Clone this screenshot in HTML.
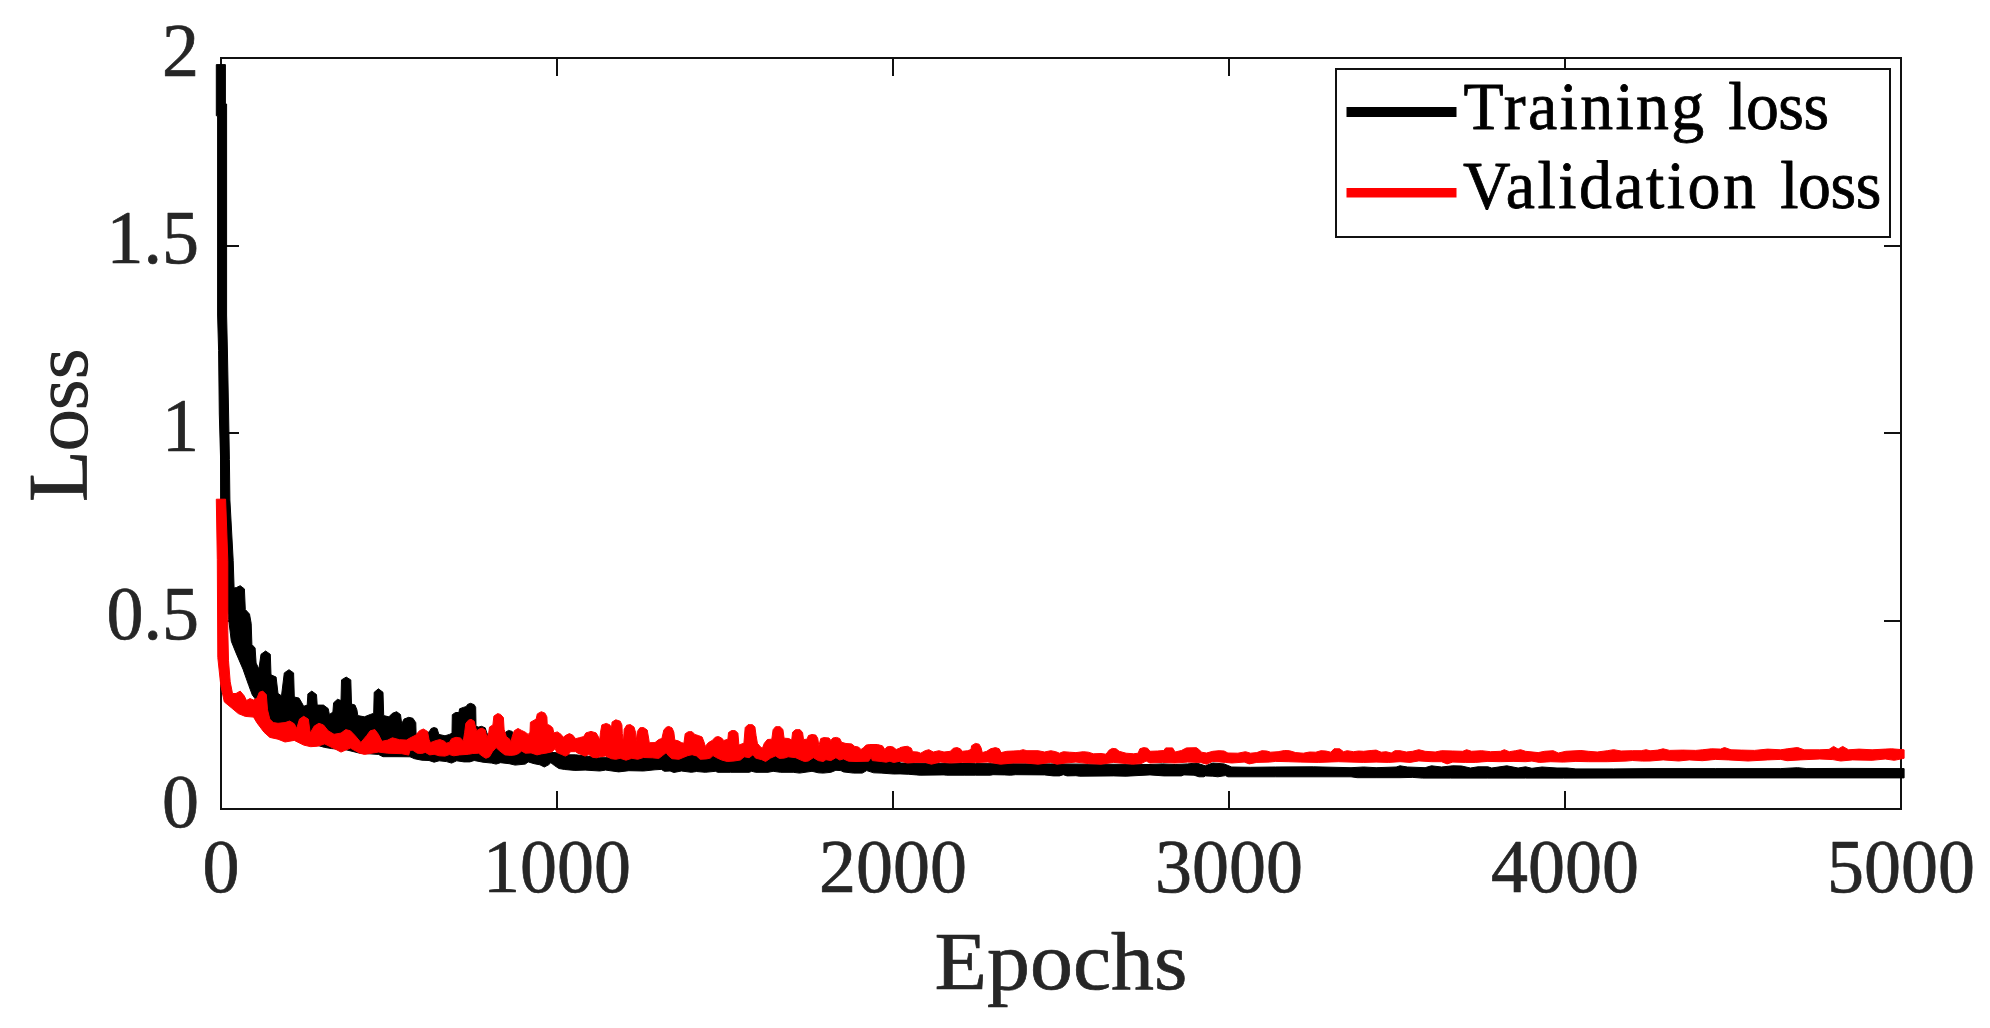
<!DOCTYPE html>
<html><head><meta charset="utf-8"><title>Loss</title>
<style>
html,body{margin:0;padding:0;background:#fff;}
svg{display:block}
text{font-family:"Liberation Serif",serif;stroke-linejoin:round;}
.tk{stroke:#262626;stroke-width:0.7}
.lg{stroke:#000;stroke-width:0.8}
</style></head><body>
<svg width="1990" height="1028" viewBox="0 0 1990 1028">
<rect width="1990" height="1028" fill="#fff"/>
<g id="axes" fill="none" stroke="#111111" stroke-width="2" shape-rendering="crispEdges">
<rect x="221" y="58" width="1680" height="751"/>
<path d="M557 809V791M557 58V76"/><path d="M893 809V791M893 58V76"/><path d="M1229 809V791M1229 58V76"/><path d="M1565 809V791M1565 58V76"/><path d="M221 621H239M1901 621H1884"/><path d="M221 433H239M1901 433H1884"/><path d="M221 246H239M1901 246H1884"/>
</g>
<g id="curves" stroke-linejoin="round">
<path d="M225.4 64.6 L225.4 104.0 L226.6 104.0 L226.6 315.0 L227.4 350.0 L228.6 414.0 L229.4 459.5 L229.9 500.0 L233.2 560.5 L234.1 588.0 L236.5 587.5 L240.2 585.7 L244.4 588.9 L245.3 609.5 L249.5 614.1 L251.2 623.5 L251.9 644.5 L255.1 648.0 L256.1 663.1 L258.9 669.0 L261.0 654.3 L265.6 651.0 L270.3 654.3 L271.0 674.8 L276.1 677.1 L278.0 693.5 L281.5 695.8 L284.3 672.9 L289.0 669.7 L293.6 672.9 L294.3 697.0 L299.0 698.1 L301.8 702.8 L303.7 706.3 L307.2 705.1 L307.9 693.9 L311.8 691.1 L316.5 694.6 L317.2 705.1 L323.5 705.1 L328.2 708.6 L329.4 714.5 L332.9 712.1 L333.6 702.8 L337.5 699.3 L341.0 700.5 L341.5 679.9 L346.2 677.1 L350.8 679.9 L351.5 704.0 L355.0 705.1 L356.9 709.8 L357.8 715.6 L364.4 716.8 L370.2 714.5 L373.7 713.3 L374.2 692.3 L378.4 688.8 L383.0 692.3 L383.7 715.6 L388.9 716.8 L392.4 713.3 L396.6 711.7 L400.5 714.5 L401.7 723.8 L404.0 719.1 L408.7 717.3 L410.0 717.6 L412.9 718.3 L415.8 722.7 L416.1 734.4 L418.8 733.6 L424.6 732.2 L429.0 732.2 L431.2 728.5 L434.1 727.5 L437.0 728.5 L438.9 734.4 L445.0 735.8 L449.4 734.4 L452.0 733.3 L452.3 714.7 L455.5 712.5 L458.9 712.5 L459.6 708.8 L463.3 707.4 L466.2 706.6 L467.6 704.4 L470.6 703.3 L474.2 704.7 L475.7 707.4 L476.0 726.3 L478.6 727.1 L481.5 726.3 L485.2 727.8 L486.6 732.2 L491.7 743.9 L503.4 738.0 L505.6 732.2 L508.5 730.4 L512.2 731.4 L512.9 735.1 L515.1 746.8 L520.9 751.2 L555.9 752.6 L569.8 754.8 L575.6 754.8 L599.7 757.7 L655.0 757.5 L658.8 757.8 L662.5 754.9 L666.1 752.1 L668.6 755.3 L672.0 758.1 L678.9 758.7 L683.9 756.6 L687.9 754.9 L692.1 754.1 L696.5 755.3 L700.2 758.7 L706.5 758.3 L710.3 757.5 L713.0 754.9 L716.6 757.1 L721.6 759.3 L727.2 760.9 L734.1 760.3 L740.4 759.3 L744.2 756.2 L749.2 757.1 L753.0 754.1 L755.5 757.5 L761.8 759.1 L765.6 760.9 L770.6 757.5 L775.4 755.3 L779.4 757.8 L784.4 757.5 L788.2 756.2 L795.7 757.1 L800.7 759.3 L804.5 760.9 L808.3 760.3 L813.3 757.1 L818.3 760.0 L823.3 760.9 L825.9 759.1 L830.9 760.0 L835.9 757.1 L839.7 759.3 L843.4 758.3 L848.5 760.6 L856.0 760.9 L868.6 760.6 L871.3 756.6 L872.3 760.0 L881.1 760.9 L886.2 761.6 L889.9 760.6 L893.7 761.9 L900.0 760.6 L900.0 763.0 L975.4 763.6 L1050.8 763.9 L1150.0 764.5 L1162.6 763.9 L1175.1 764.5 L1187.7 763.9 L1196.5 763.0 L1205.3 765.8 L1212.8 763.0 L1224.1 763.9 L1231.7 767.0 L1250.5 767.3 L1275.6 767.0 L1313.3 766.8 L1351.0 767.7 L1363.6 767.0 L1376.1 767.7 L1396.2 767.0 L1400.0 765.8 L1407.5 767.0 L1425.1 767.7 L1431.4 765.8 L1441.5 767.0 L1452.8 765.8 L1461.6 766.0 L1470.4 768.0 L1477.9 766.8 L1487.9 766.8 L1491.7 768.0 L1506.8 765.8 L1518.1 768.0 L1525.6 766.8 L1531.9 768.3 L1542.0 767.0 L1557.0 768.0 L1567.1 768.0 L1575.9 768.9 L1613.6 768.9 L1650.0 768.6 L1715.3 768.6 L1780.7 768.6 L1797.6 767.7 L1806.8 768.6 L1846.0 768.4 L1904.1 768.6 L1904.1 777.9 L1650.0 777.9 L1563.3 778.1 L1525.6 778.1 L1487.9 778.1 L1450.3 778.1 L1422.6 778.1 L1412.6 777.4 L1400.0 777.7 L1376.1 777.7 L1357.3 777.7 L1351.0 776.8 L1275.6 776.8 L1227.9 776.8 L1225.4 775.6 L1217.8 776.8 L1212.8 776.2 L1205.3 775.9 L1204.0 776.8 L1199.0 776.8 L1194.0 775.2 L1183.9 774.9 L1181.4 775.9 L1163.8 775.9 L1150.0 774.9 L1126.1 776.2 L1113.6 775.9 L1079.6 776.2 L1075.9 775.7 L1067.1 775.9 L1063.3 774.7 L1059.5 775.9 L1053.3 775.9 L1044.5 774.9 L1015.6 774.7 L1010.6 775.2 L1004.3 774.9 L993.0 774.7 L990.5 775.2 L975.4 775.2 L964.1 775.2 L946.5 775.2 L944.0 774.9 L920.1 775.2 L916.3 774.9 L908.8 774.3 L900.0 773.9 L893.7 774.0 L881.1 773.1 L873.6 772.8 L866.7 770.6 L862.3 773.1 L853.5 773.1 L843.4 771.9 L840.9 770.6 L835.9 770.3 L830.9 772.3 L823.3 773.1 L818.3 772.8 L812.0 771.3 L799.5 773.1 L793.2 772.3 L780.6 772.3 L773.1 771.3 L768.1 772.3 L755.5 772.3 L751.7 771.3 L749.2 772.3 L730.4 772.3 L717.8 772.3 L715.3 771.3 L705.3 772.3 L696.5 771.5 L691.4 772.3 L681.4 771.0 L673.8 772.5 L670.1 771.0 L664.4 771.3 L661.3 769.4 L655.0 769.8 L643.5 771.0 L628.9 770.7 L618.7 771.9 L605.6 770.1 L599.7 771.0 L585.1 770.1 L574.9 770.4 L564.7 769.5 L558.9 768.5 L554.5 765.6 L550.8 762.7 L548.6 764.8 L544.3 767.0 L539.9 764.8 L534.1 763.7 L528.2 761.9 L525.3 764.1 L515.1 765.1 L509.2 763.7 L500.5 762.7 L496.1 764.1 L491.7 763.1 L483.0 762.2 L474.2 760.5 L469.8 761.9 L464.0 761.9 L456.7 760.8 L451.6 763.1 L446.5 761.6 L439.2 760.8 L434.1 762.2 L429.0 760.5 L421.7 760.2 L414.4 758.7 L410.0 756.8 L397.0 756.7 L383.0 756.7 L378.4 754.4 L359.7 753.2 L345.7 749.7 L331.7 748.6 L324.7 747.4 L303.7 741.6 L285.0 732.2 L271.0 722.9 L255.8 699.6 L252.3 694.9 L248.8 685.6 L243.0 669.2 L236.0 652.9 L231.3 641.2 L228.5 617.9 L222.0 559.5 L221.4 500.0 L220.6 459.5 L219.3 414.0 L218.6 350.6 L217.6 315.0 L217.6 115.8 L216.3 115.8 L216.3 64.6Z" fill="#000" stroke="#000" stroke-width="1"/>
<path d="M225.6 499.2 L227.8 560.5 L227.8 630.5 L228.5 660.8 L230.2 681.8 L232.5 693.5 L236.0 693.5 L240.2 691.1 L244.2 695.8 L246.5 700.5 L250.0 698.6 L253.5 700.0 L257.0 698.1 L259.3 692.3 L262.8 691.1 L266.3 694.6 L267.5 709.8 L269.8 719.1 L273.3 722.6 L278.0 723.3 L285.0 722.6 L289.7 721.0 L294.3 723.8 L296.7 728.5 L299.5 719.1 L303.7 716.3 L308.3 719.1 L310.2 733.1 L314.2 726.1 L318.9 723.3 L323.5 725.0 L328.2 730.8 L334.0 734.3 L341.0 733.1 L345.7 729.6 L350.4 730.8 L355.0 735.5 L360.9 742.5 L366.7 735.5 L370.2 730.8 L374.9 729.6 L378.4 734.3 L381.9 741.3 L387.7 740.1 L392.4 737.8 L399.4 739.7 L406.4 740.1 L410.0 738.0 L415.8 735.1 L419.5 730.7 L423.4 729.0 L427.5 731.4 L429.0 739.5 L430.4 742.7 L434.8 740.9 L439.9 739.5 L444.3 741.2 L446.5 743.1 L449.4 742.4 L451.6 738.7 L456.0 737.3 L460.4 738.0 L463.3 740.9 L464.7 732.2 L465.8 723.4 L468.4 720.2 L471.0 719.3 L474.2 721.2 L475.7 727.8 L476.8 730.7 L479.3 729.0 L482.2 728.1 L485.2 730.0 L487.1 738.0 L488.8 732.2 L489.5 727.1 L492.9 724.9 L493.9 716.1 L497.6 713.6 L500.5 714.4 L503.4 717.6 L504.1 729.3 L506.3 736.6 L510.0 739.5 L510.7 743.1 L512.2 736.6 L514.3 730.7 L518.0 728.5 L521.6 730.4 L525.3 732.2 L528.2 734.4 L530.0 732.2 L530.4 722.3 L534.1 720.2 L536.2 719.0 L537.3 713.9 L541.3 711.7 L545.0 713.2 L546.9 716.9 L547.2 724.2 L550.1 725.6 L552.7 727.8 L553.8 732.9 L557.4 731.9 L561.1 734.4 L563.2 737.3 L566.2 735.1 L569.4 733.6 L572.7 735.1 L575.6 738.7 L579.3 737.7 L583.7 736.6 L585.9 732.9 L591.0 731.4 L596.1 732.9 L598.3 736.6 L599.7 740.2 L600.5 732.2 L601.9 724.9 L606.3 723.4 L609.9 724.9 L611.4 728.5 L612.1 722.0 L615.8 719.8 L620.2 721.2 L621.9 724.9 L622.3 733.6 L623.4 742.4 L624.2 729.3 L626.7 725.2 L630.4 724.6 L634.0 727.1 L635.5 732.2 L636.2 740.9 L637.4 731.4 L639.9 727.8 L643.5 727.5 L647.2 730.0 L648.6 738.0 L649.3 742.7 L655.0 742.6 L658.8 739.5 L661.9 738.5 L663.8 730.1 L666.3 727.2 L668.8 726.4 L672.0 727.9 L673.8 732.0 L674.8 740.1 L678.2 740.8 L681.4 742.6 L683.9 743.3 L685.2 733.8 L688.3 731.7 L692.1 731.7 L694.9 734.5 L698.3 735.5 L702.1 737.0 L704.0 742.0 L705.3 746.4 L708.4 742.6 L712.2 740.5 L715.3 737.2 L718.4 736.5 L721.6 738.0 L723.8 740.5 L727.9 739.2 L728.5 732.6 L731.6 730.5 L735.4 730.7 L737.9 733.2 L738.9 745.1 L741.7 743.9 L743.9 743.3 L745.2 727.6 L748.0 724.7 L752.4 724.7 L754.9 726.9 L756.1 735.7 L757.4 743.3 L760.5 747.0 L762.4 748.3 L764.3 743.3 L767.4 739.5 L771.8 739.2 L773.1 729.7 L775.6 726.7 L780.0 726.7 L782.9 729.4 L784.1 738.2 L788.8 738.5 L791.7 740.1 L792.6 732.2 L795.5 729.7 L800.1 729.7 L802.6 732.6 L803.5 739.5 L807.0 739.2 L808.5 735.5 L812.0 734.5 L815.8 735.1 L817.7 738.2 L818.9 745.8 L820.8 738.5 L824.0 737.6 L829.0 738.0 L830.9 740.5 L832.8 738.0 L836.5 737.4 L839.7 738.5 L841.6 742.3 L846.0 743.5 L851.6 743.9 L854.7 746.4 L858.5 747.0 L861.0 749.5 L863.5 747.7 L866.1 745.1 L869.8 744.5 L877.4 744.5 L882.4 745.8 L884.9 749.5 L886.8 747.0 L889.9 746.4 L893.1 747.0 L896.2 749.5 L899.3 748.3 L900.0 747.6 L903.8 746.7 L907.5 746.3 L911.3 748.2 L912.6 751.7 L917.6 752.0 L920.7 753.2 L925.1 750.7 L928.9 749.7 L933.3 752.0 L938.9 750.7 L944.0 752.0 L950.3 751.3 L953.4 748.2 L957.2 747.6 L960.3 748.8 L962.2 751.3 L967.8 750.7 L971.0 749.4 L971.6 745.7 L975.4 743.4 L979.1 744.2 L981.0 747.6 L982.3 752.6 L986.7 751.3 L990.5 748.8 L995.5 747.6 L999.2 748.8 L1001.1 752.6 L1006.8 751.3 L1013.1 751.0 L1019.3 750.7 L1023.1 749.7 L1026.9 750.7 L1038.2 750.7 L1044.5 752.0 L1050.8 750.7 L1055.8 751.7 L1059.5 753.2 L1063.3 751.7 L1069.6 752.2 L1075.9 752.6 L1083.4 751.7 L1088.4 752.2 L1093.5 753.8 L1101.0 753.5 L1106.0 754.2 L1109.2 750.1 L1112.3 748.4 L1116.1 748.8 L1119.2 751.3 L1126.1 753.2 L1133.7 753.8 L1138.1 753.2 L1139.9 748.8 L1143.7 747.6 L1147.5 748.2 L1150.0 751.3 L1157.5 751.0 L1163.8 750.5 L1165.7 747.9 L1172.6 747.9 L1175.1 752.0 L1181.4 750.5 L1186.4 747.9 L1196.5 747.7 L1199.6 750.1 L1201.5 752.2 L1206.5 753.0 L1212.8 751.3 L1219.1 750.7 L1224.1 751.0 L1227.9 753.0 L1237.9 753.2 L1245.5 751.7 L1250.5 753.2 L1256.8 752.6 L1261.8 750.7 L1266.8 751.0 L1270.6 752.2 L1278.1 751.7 L1284.4 750.5 L1289.4 750.7 L1295.7 752.6 L1303.3 753.2 L1309.5 752.0 L1315.8 752.2 L1320.9 750.7 L1325.9 751.0 L1330.9 752.2 L1334.0 748.8 L1339.7 748.8 L1343.5 751.7 L1347.2 750.7 L1353.5 751.7 L1358.5 751.0 L1363.6 751.3 L1371.1 750.5 L1376.1 750.1 L1381.2 752.2 L1386.2 751.7 L1391.2 753.0 L1395.0 750.7 L1400.0 750.7 L1406.3 752.0 L1412.6 751.3 L1418.8 749.7 L1425.1 751.3 L1435.2 752.0 L1441.5 750.7 L1452.8 751.0 L1462.8 751.3 L1466.6 749.7 L1471.6 751.3 L1481.7 750.7 L1490.5 751.7 L1500.5 751.3 L1504.3 749.7 L1509.3 751.7 L1515.6 750.7 L1520.6 749.7 L1525.6 751.3 L1538.2 752.6 L1544.5 751.3 L1553.3 750.7 L1558.3 753.0 L1565.8 751.3 L1580.9 750.5 L1588.4 751.3 L1597.2 752.0 L1607.3 750.7 L1613.6 749.7 L1621.1 751.0 L1632.4 750.7 L1641.2 750.7 L1646.2 749.7 L1650.0 750.8 L1657.8 750.1 L1663.1 748.8 L1669.6 750.4 L1682.7 750.1 L1695.7 750.4 L1702.3 749.8 L1711.4 748.8 L1720.6 749.1 L1724.5 747.5 L1731.0 749.8 L1741.5 750.1 L1754.5 750.4 L1767.6 749.1 L1780.7 749.8 L1787.2 748.8 L1797.6 747.5 L1804.2 749.8 L1819.8 749.8 L1829.0 749.4 L1833.6 746.4 L1838.1 749.1 L1842.7 746.4 L1848.6 749.8 L1859.0 749.1 L1872.1 749.8 L1885.2 749.1 L1891.7 748.8 L1904.1 749.8 L1904.1 758.3 L1894.3 760.3 L1885.2 759.0 L1872.1 760.3 L1852.5 759.9 L1840.7 761.0 L1832.9 759.6 L1819.8 759.0 L1800.2 759.9 L1787.2 760.7 L1780.7 759.4 L1767.6 759.9 L1748.0 761.0 L1728.4 759.9 L1715.3 759.4 L1702.3 760.7 L1689.2 759.9 L1678.7 761.0 L1663.1 759.9 L1650.0 761.0 L1642.5 761.1 L1632.4 760.5 L1626.1 761.1 L1607.3 761.7 L1588.4 761.7 L1575.9 761.4 L1563.3 762.1 L1550.8 761.7 L1539.4 762.4 L1531.9 761.1 L1525.6 761.7 L1513.1 761.4 L1500.5 761.7 L1487.9 761.4 L1475.4 762.4 L1465.3 762.4 L1452.8 762.1 L1447.1 763.9 L1441.5 761.7 L1431.4 761.7 L1418.8 760.9 L1410.1 762.4 L1400.0 761.7 L1388.7 762.4 L1376.1 762.1 L1363.6 762.4 L1351.0 762.1 L1338.4 761.7 L1318.3 762.4 L1300.8 762.1 L1288.2 761.7 L1275.6 761.4 L1269.3 762.1 L1256.8 762.4 L1249.2 763.9 L1244.2 762.1 L1231.7 763.0 L1225.4 762.4 L1212.8 761.4 L1206.5 764.2 L1200.3 762.4 L1187.7 762.1 L1175.1 763.0 L1162.6 762.4 L1150.0 763.0 L1146.2 761.1 L1141.2 763.6 L1132.4 764.2 L1126.1 763.6 L1113.6 762.4 L1101.0 764.2 L1088.4 763.6 L1075.9 762.1 L1065.8 763.0 L1057.0 764.2 L1050.8 762.4 L1038.2 764.2 L1025.6 763.0 L1013.1 763.0 L1000.5 764.2 L987.9 762.1 L975.4 762.6 L962.8 762.4 L950.3 763.0 L940.2 762.1 L931.4 764.2 L925.1 762.4 L915.1 762.4 L907.5 763.0 L900.0 761.1 L900.0 761.2 L893.7 762.5 L889.9 761.2 L886.2 762.2 L881.1 761.5 L872.3 760.6 L871.3 757.2 L868.6 761.2 L856.0 761.5 L848.5 761.2 L843.4 758.9 L839.7 760.0 L835.9 757.7 L830.9 760.6 L825.9 759.7 L823.3 761.5 L818.3 760.6 L813.3 757.7 L808.3 761.0 L804.5 761.5 L800.7 760.0 L795.7 757.7 L788.2 756.8 L784.4 758.1 L779.4 758.4 L775.4 755.9 L770.6 758.1 L765.6 761.5 L761.8 759.7 L755.5 758.1 L753.0 754.7 L749.2 757.7 L744.2 756.8 L740.4 760.0 L734.1 761.0 L727.2 761.5 L721.6 760.0 L716.6 757.7 L713.0 755.6 L710.3 758.1 L706.5 758.9 L700.2 759.3 L696.5 755.9 L692.1 754.7 L687.9 755.6 L683.9 757.2 L678.9 759.3 L672.0 758.7 L668.6 755.9 L666.1 752.7 L662.5 755.6 L658.8 758.4 L655.0 758.1 L652.3 757.8 L643.5 757.5 L637.7 759.3 L631.8 758.3 L626.0 760.2 L620.2 758.3 L615.8 759.3 L611.4 758.7 L605.6 756.1 L599.7 756.8 L596.8 757.8 L592.4 757.3 L588.8 754.6 L585.1 756.1 L582.2 754.9 L577.8 753.2 L575.6 751.7 L570.5 751.7 L568.3 754.6 L565.4 756.1 L561.8 754.6 L556.7 752.4 L555.2 748.5 L552.3 751.7 L547.2 752.9 L541.3 753.9 L537.0 754.9 L531.1 752.9 L525.3 753.2 L521.6 751.0 L518.7 753.5 L515.1 754.9 L510.7 755.4 L504.9 754.9 L499.8 751.0 L496.1 747.6 L492.5 751.7 L489.5 756.8 L485.9 758.3 L482.2 756.1 L478.6 753.2 L472.8 753.5 L468.4 754.3 L459.6 754.9 L453.8 755.8 L449.4 754.6 L445.0 756.1 L439.2 755.8 L434.1 754.3 L429.7 754.9 L425.3 752.4 L421.7 753.5 L417.3 753.2 L412.9 750.3 L410.0 750.3 L408.7 755.1 L401.7 753.7 L387.7 753.2 L378.4 752.1 L364.4 754.4 L359.7 753.2 L350.4 748.1 L341.0 752.1 L336.4 749.7 L324.7 743.9 L317.7 746.2 L310.7 746.7 L303.7 745.1 L294.3 740.4 L285.0 742.0 L278.0 739.2 L269.8 737.4 L264.0 732.2 L257.0 722.9 L253.5 717.1 L245.3 716.4 L238.3 713.6 L231.3 707.7 L224.3 701.9 L220.8 685.6 L217.8 657.6 L217.3 559.5 L216.3 499.2Z" fill="#f00" stroke="#f00" stroke-width="1"/>
</g>
<g id="xt" class="tk" font-size="76" fill="#262626"><text transform="translate(221 892.4) scale(0.974 1)" text-anchor="middle">0</text><text transform="translate(557 892.4) scale(0.974 1)" text-anchor="middle">1000</text><text transform="translate(893 892.4) scale(0.974 1)" text-anchor="middle">2000</text><text transform="translate(1229 892.4) scale(0.974 1)" text-anchor="middle">3000</text><text transform="translate(1565 892.4) scale(0.974 1)" text-anchor="middle">4000</text><text transform="translate(1901 892.4) scale(0.974 1)" text-anchor="middle">5000</text></g>
<g id="yt" class="tk" font-size="76" fill="#262626"><text transform="translate(199 826.7) scale(0.974 1)" text-anchor="end">0</text><text transform="translate(199 639.0) scale(0.974 1)" text-anchor="end">0.5</text><text transform="translate(199 451.2) scale(0.974 1)" text-anchor="end">1</text><text transform="translate(199 263.4) scale(0.974 1)" text-anchor="end">1.5</text><text transform="translate(199 75.7) scale(0.974 1)" text-anchor="end">2</text></g>
<text id="xl" class="tk" transform="translate(1061 988.6) scale(1.03 1)" text-anchor="middle" font-size="83.4" fill="#262626">Epochs</text>
<text id="yl" class="tk" transform="translate(86.5 425.2) rotate(-90) scale(1.02 1.02)" text-anchor="middle" fill="#262626"><tspan font-size="83">L</tspan><tspan font-size="54.5" stroke-width="1.3">OSS</tspan></text>
<g id="legend">
<rect x="1336" y="69" width="554" height="168" fill="#fff" stroke="#111111" stroke-width="2" shape-rendering="crispEdges"/>
<rect x="1346.5" y="107" width="110" height="10" fill="#000"/>
<rect x="1346.5" y="188" width="110" height="9.5" fill="#f00"/>
<text id="l1" class="lg" transform="translate(1463.5 129) scale(0.975 1)" font-size="67.5"><tspan id="l1a" letter-spacing="2.4">Training </tspan><tspan id="l1b" dx="2.9" letter-spacing="-0.5">loss</tspan></text>
<text id="l2" class="lg" transform="translate(1463 208.3) scale(0.975 1)" font-size="67.5"><tspan id="l2a" letter-spacing="2.55">Validation </tspan><tspan id="l2b" dx="3.1" letter-spacing="-0.5">loss</tspan></text>
</g>
</svg>
</body></html>
